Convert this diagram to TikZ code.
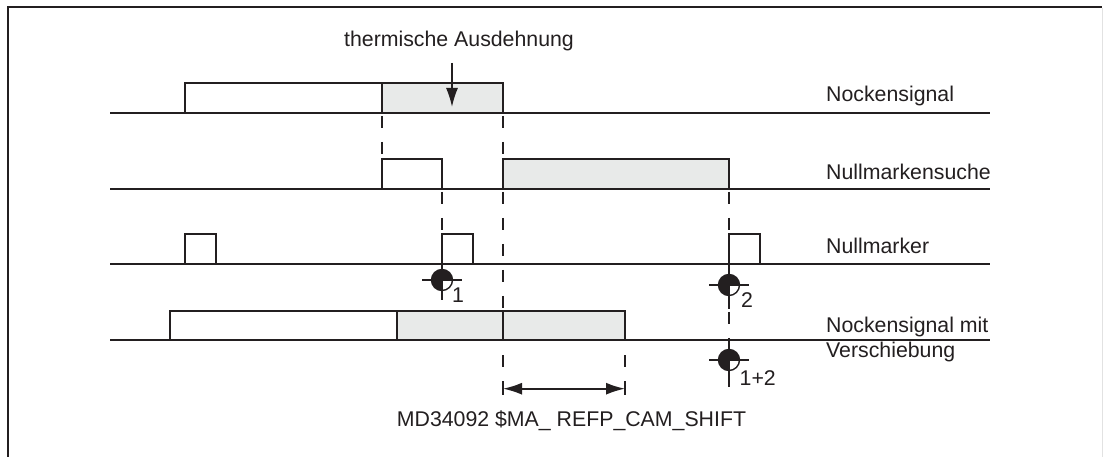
\documentclass[tikz,border=0pt]{standalone}
\usepackage{fontspec}
\setmainfont{Liberation Sans}
\usetikzlibrary{arrows.meta}
\definecolor{ink}{HTML}{231F20}
\definecolor{shade}{HTML}{E8EAE9}
\definecolor{framegray}{HTML}{E2E2E2}
\tikzset{mytip/.tip={Latex[length=19pt,width=12pt]}}
\newcommand{\refpt}[4]{%
  \fill[ink] (#1,#2) circle[radius=10.5];
  \fill[white] (#1,#2) -- ++(10.5,0) arc[start angle=0,end angle=90,radius=10.5] -- cycle;
  \draw[ink,line width=1.4pt] (#1,#2) circle[radius=10.5];
  \draw[ink,line width=1.6pt] (#1-20,#2) -- (#1+20,#2) (#1,#3) -- (#1,#4);
}
\begin{document}
\begin{tikzpicture}[x=1pt,y=-1pt,
  sig/.style={line width=1.6pt, draw=ink},
  pulse/.style={line width=1.6pt, draw=ink, fill=white},
  pulseg/.style={line width=1.6pt, draw=ink, fill=shade},
  dashline/.style={line width=1.6pt, draw=ink, dash pattern=on 12pt off 14pt},
  lbl/.style={font=\fontsize{21.3}{24}\selectfont, text=ink, inner sep=0pt, anchor=base west}
]
\useasboundingbox (0,0) rectangle (1104,457);
\fill[white] (0,0) rectangle (1104,457);
% frame
\draw[ink, line width=2.4pt] (8,457) -- (8,7) -- (1102,7);
\draw[framegray, line width=1pt] (1102,8) -- (1102,457);

% dashed guide lines
\draw[dashline] (382,116) -- (382,158);
\draw[dashline] (503,116) -- (503,158);
\draw[dashline] (503,192) -- (503,310);
\draw[dashline] (503,355) -- (503,395);
\draw[dashline] (442,192) -- (442,233);
\draw[dashline] (729,192) -- (729,233);
\draw[dashline] (729,312) -- (729,340);
\draw[dashline] (625,355) -- (625,395);

% row 1: Nockensignal
\draw[sig] (110,113) -- (990,113);
\draw[pulse] (185,113) rectangle (382,83);
\draw[pulseg] (382,113) rectangle (503,83);

% row 2: Nullmarkensuche
\draw[sig] (110,189) -- (990,189);
\draw[pulse] (382,189) rectangle (442,159);
\draw[pulseg] (503,189) rectangle (729,159);

% row 3: Nullmarker
\draw[sig] (110,264) -- (990,264);
\draw[pulse] (185,264) rectangle (216,234);
\draw[pulse] (442,264) rectangle (473,234);
\draw[pulse] (729,264) rectangle (760,234);

% row 4: Nockensignal mit Verschiebung
\draw[sig] (110,340) -- (990,340);
\draw[pulse] (170,340) rectangle (397,311);
\draw[pulseg] (397,340) rectangle (503,311);
\draw[pulseg] (503,340) rectangle (625,311);

% reference point marks
\refpt{442}{280}{264}{300}
\refpt{729}{285}{264}{309}
\refpt{729}{360}{340}{387}
\node[lbl] (n1) at (452,303) {1};
\node[lbl] (n2) at (741,308) {2};
\node[lbl] (n12) at (739.5,385) {1+2};

% thermal expansion label and arrow
\node[lbl, anchor=base] (thermo) at (459,47) {thermische Ausdehnung};
\coordinate (ttop) at (452,63);
\coordinate (tend) at (452,107);
\draw[ink, line width=1.6pt, -{mytip}] (ttop) -- (tend);

% shift dimension
\coordinate (sa) at (503,388.7);
\coordinate (sb) at (625,388.7);
\draw[ink, line width=1.6pt] (503,381) -- (503,395) (625,381) -- (625,395);
\draw[ink, line width=1.6pt, {mytip}-{mytip}] (sa) -- (sb);
\node[lbl, anchor=base] (md) at (571.5,426.7) {MD34092 \$MA\_ REFP\_CAM\_SHIFT};

% signal names
\node[lbl] (l1) at (826,102) {Nockensignal};
\node[lbl] (l2) at (826,180) {Nullmarkensuche};
\node[lbl] (l3) at (826,254) {Nullmarker};
\node[lbl] (l4) at (826,333) {Nockensignal mit};
\node[lbl] (l5) at (826,357) {Verschiebung};
\end{tikzpicture}
\end{document}
